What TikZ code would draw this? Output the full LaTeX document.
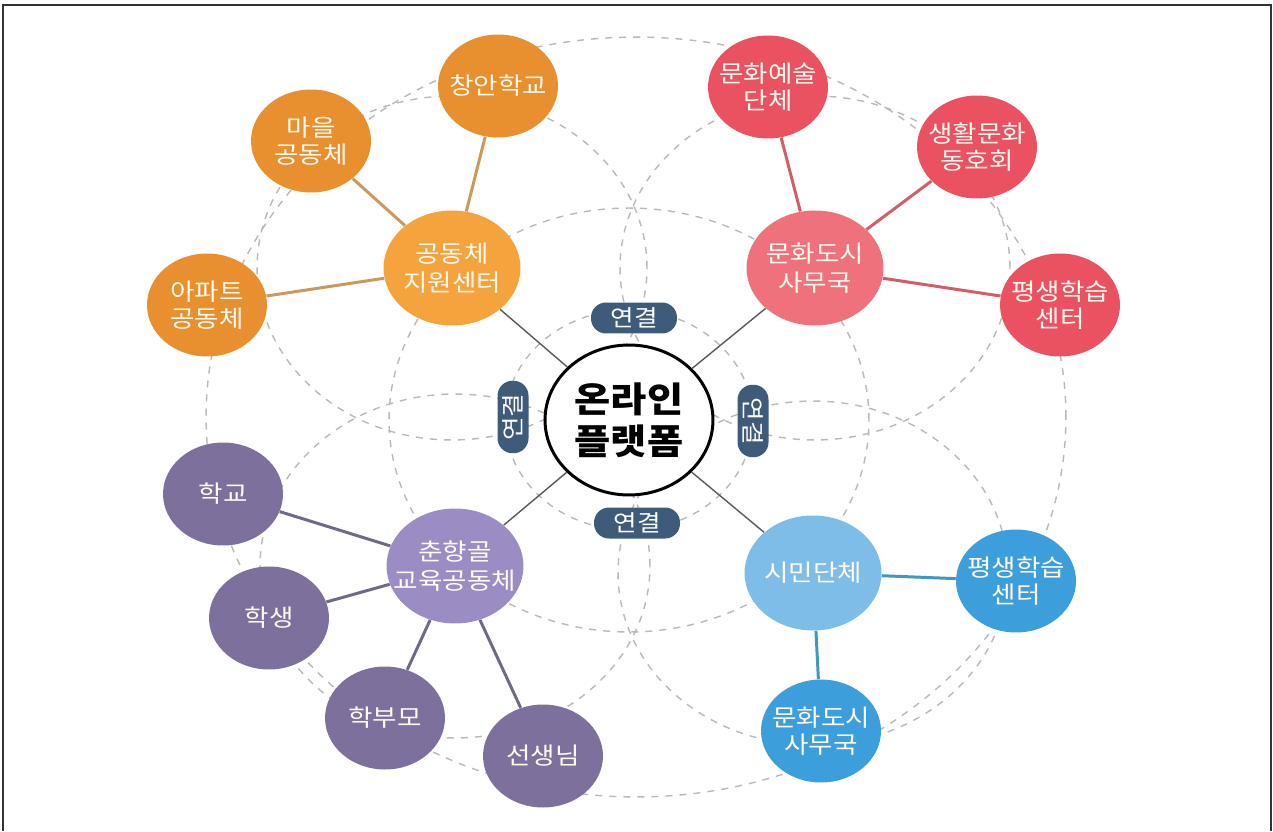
\documentclass[tikz,border=0pt]{standalone}
\usepackage{fontspec}
\setmainfont{Noto Sans CJK KR}[FakeStretch=1.12]
\usetikzlibrary{shapes.geometric,backgrounds}
\definecolor{orghub}{HTML}{F5A33D}
\definecolor{orgsat}{HTML}{E8902F}
\definecolor{orgline}{HTML}{C99A5E}
\definecolor{redhub}{HTML}{EF717B}
\definecolor{redsat}{HTML}{EA5262}
\definecolor{redline}{HTML}{D45D6A}
\definecolor{purhub}{HTML}{9B8DC4}
\definecolor{pursat}{HTML}{7E709C}
\definecolor{purline}{HTML}{6F6A86}
\definecolor{bluhub}{HTML}{7EBDE7}
\definecolor{blusat}{HTML}{3C9FDC}
\definecolor{bluline}{HTML}{3E9AC2}
\definecolor{pillc}{HTML}{3F5B7A}
\definecolor{cream}{HTML}{FFF9EE}
\tikzset{
	core/.style  = {ellipse, draw, line width=1.7pt, fill=white, minimum width=3.36cm,
		minimum height=3cm, inner sep=0pt, align=center,
		font=\fontsize{20}{24}\selectfont\bfseries},
	hub/.style   = {ellipse, minimum width=2.74cm, minimum height=2.3cm, inner xsep=-10pt,
		inner ysep=0pt, text=cream, align=center, font=\fontsize{13.5}{16.5}\selectfont},
	sat/.style   = {ellipse, minimum width=2.4cm, minimum height=2.06cm, inner xsep=-10pt,
		inner ysep=0pt, text=cream, align=center, font=\fontsize{13.5}{15.5}\selectfont},
	pill/.style  = {rectangle, rounded corners=8.5pt, fill=pillc, text=white, inner sep=0pt,
		minimum width=1.72cm, minimum height=0.62cm, font=\fontsize{13}{14}\selectfont},
	ring/.style  = {draw=gray!55, line width=0.8pt, dash pattern=on 4pt off 4pt},
	axis/.style  = {draw=black!65, line width=0.8pt},
	spoke/.style = {line width=1.7pt}
}

\begin{document}
\begin{tikzpicture}[x=0.02cm, y=-0.02cm]
	\useasboundingbox (0,0) rectangle (1273,831);
	% frame
	\draw[line width=0.9pt, black!80] (3,831) -- (3,5) -- (1271,5) -- (1271,831);
	
	% centre and the four links
	\draw
	node at (629,420) [core] (online) {온라인\\플랫폼}
	node at (634,318) [pill] (linkN) {연결}
	node at (637,523) [pill] (linkS) {연결}
	node at (513,417) [pill, rotate=90, minimum width=1.45cm] (linkW) {연결}
	node at (753,421) [pill, rotate=-90, minimum width=1.45cm] (linkE) {연결};
	
	% community group
	\draw
	node at (452,268) [hub, fill=orghub] (jiwon) {공동체\\지원센터}
	node at (311,141) [sat, fill=orgsat] (maeul) {마을\\공동체}
	node at (498,86) [sat, fill=orgsat] (changan) {창안학교}
	node at (207,305) [sat, fill=orgsat] (apart) {아파트\\공동체};
	
	% culture group
	\draw
	node at (815,268) [hub, fill=redhub] (munhwa) {문화도시\\사무국}
	node at (768,87) [sat, fill=redsat] (yesul) {문화예술\\단체}
	node at (977,147) [sat, fill=redsat] (dongho) {생활문화\\동호회}
	node at (1060,305) [sat, fill=redsat] (pyeongR) {평생학습\\센터};
	
	% education group
	\draw
	node at (455,566) [hub, fill=purhub] (chunhyang) {춘향골\\교육공동체}
	node at (223,494) [sat, fill=pursat] (school) {학교}
	node at (269,618) [sat, fill=pursat] (student) {학생}
	node at (385,718) [sat, fill=pursat] (parent) {학부모}
	node at (543,756) [sat, fill=pursat] (teacher) {선생님};
	
	% civic group
	\draw
	node at (813,573) [hub, fill=bluhub] (simin) {시민단체}
	node at (1016,581) [sat, fill=blusat] (pyeongB) {평생학습\\센터}
	node at (821,731) [sat, fill=blusat] (samu) {문화도시\\사무국};
	
	\draw[axis] (online) -- (jiwon);
	\draw[axis] (online) -- (munhwa);
	\draw[axis] (online) -- (chunhyang);
	\draw[axis] (online) -- (simin);
	
	\draw[spoke, orgline] (jiwon) -- (maeul);
	\draw[spoke, orgline] (jiwon) -- (changan);
	\draw[spoke, orgline] (jiwon) -- (apart);
	\draw[spoke, redline] (munhwa) -- (yesul);
	\draw[spoke, redline] (munhwa) -- (dongho);
	\draw[spoke, redline] (munhwa) -- (pyeongR);
	\draw[spoke, purline] (chunhyang) -- (school);
	\draw[spoke, purline] (chunhyang) -- (student);
	\draw[spoke, purline] (chunhyang) -- (parent);
	\draw[spoke, purline] (chunhyang) -- (teacher);
	\draw[spoke, bluline] (simin) -- (pyeongB);
	\draw[spoke, bluline] (simin) -- (samu);
	
	% dashed rings behind everything
	\begin{pgfonlayer}{background}
		\draw[ring] (636,417) ellipse [x radius=8.6cm, y radius=7.6cm];
		\draw[ring] (online.center) ellipse [x radius=4.8cm, y radius=4.24cm];
		\draw[ring] (online.center) ellipse [x radius=2.48cm, y radius=2.2cm];
		\foreach \h in {jiwon, munhwa, chunhyang, simin}
		\draw[ring] (\h.center) ellipse [x radius=3.9cm, y radius=3.44cm];
	\end{pgfonlayer}
\end{tikzpicture}
\end{document}
